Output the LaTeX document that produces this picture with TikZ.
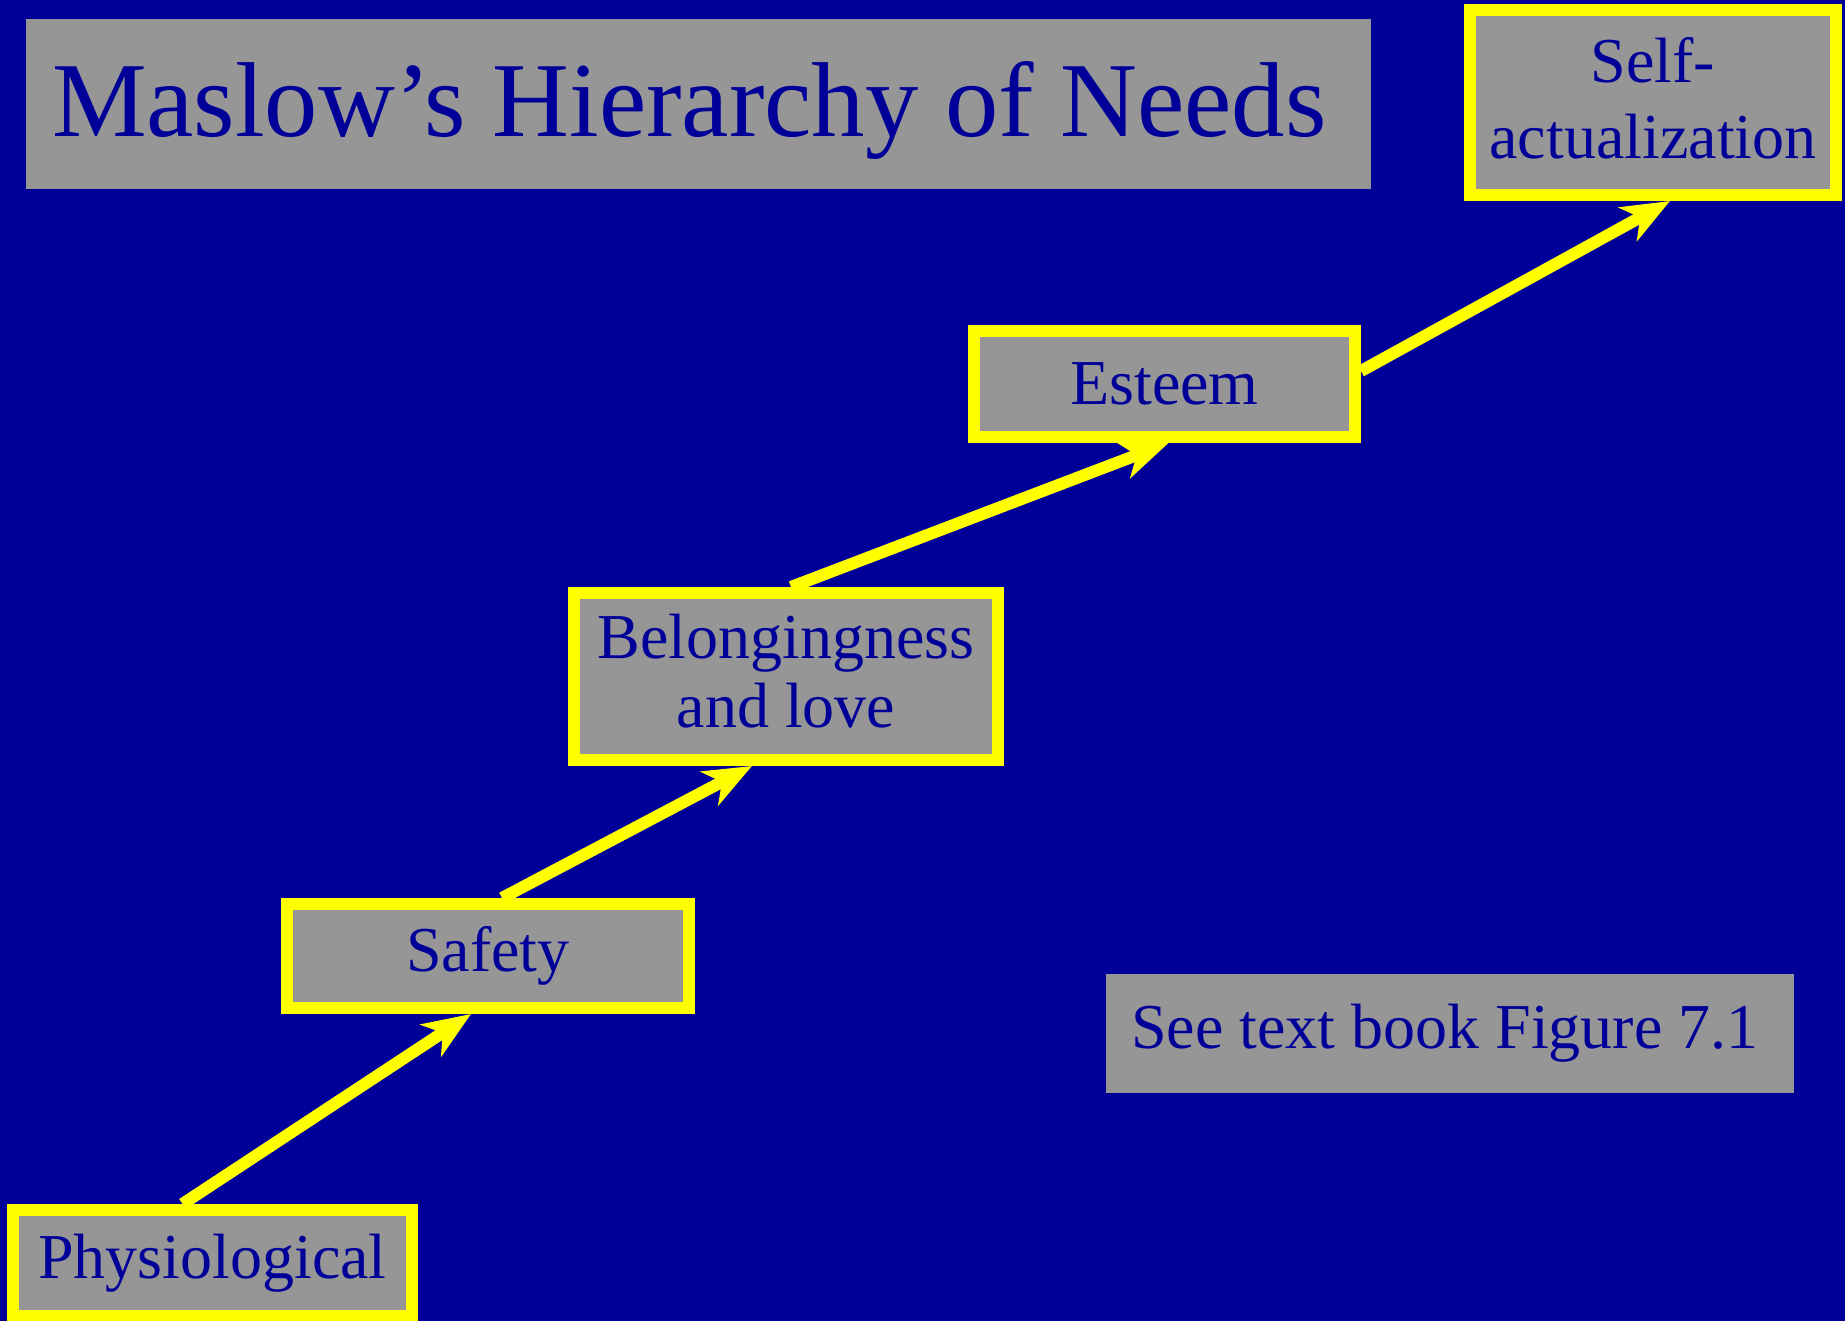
\documentclass[tikz,border=0pt]{standalone}
\usepackage{fontspec}
\setmainfont{Liberation Serif}
\usetikzlibrary{arrows.meta}
\definecolor{slideblue}{HTML}{000099}
\definecolor{boxgray}{HTML}{969696}
\definecolor{lineyellow}{HTML}{FFFF00}

\begin{document}
\begin{tikzpicture}[x=1pt, y=-1pt]
    \tikzstyle{level_box} = [draw=lineyellow, line width=12pt, fill=boxgray, text=slideblue, inner sep=0pt, align=center, font=\fontsize{64}{76}\selectfont]
    \tikzstyle{plain_box} = [fill=boxgray, text=slideblue, inner sep=0pt]
    \tikzstyle{arrow_style} = [-{Stealth[length=48pt, width=38pt, inset=14pt]}, lineyellow, line width=12pt]

    \fill[slideblue] (0,0) rectangle (1845,1321);
    \useasboundingbox (0,0) rectangle (1845,1321);

    \node[plain_box, minimum width=1345pt, minimum height=170pt, text width=1293pt, inner xsep=26pt, text depth=9pt, align=flush left, font=\fontsize{106.5}{120}\selectfont] (ntitle) at (698.5,104) {\mbox{Maslow’s Hierarchy of Needs}};
    \node[plain_box, minimum width=688pt, minimum height=119pt, text width=638pt, inner xsep=25pt, align=flush left, font=\fontsize{64}{76}\selectfont] (nsee) at (1450,1033.5) {\mbox{See text book Figure 7.1}};

    \node[level_box, minimum width=399pt, minimum height=106pt] (nphys) at (212.5,1263) {Physiological};
    \node[level_box, minimum width=402pt, minimum height=104pt] (nsafe) at (488,956) {Safety};
    \node[level_box, minimum width=424pt, minimum height=167pt, text depth=12pt, font=\fontsize{64}{69}\selectfont] (nbelong) at (786,676.5) {Belongingness\\and love};
    \node[level_box, minimum width=381pt, minimum height=106pt] (nesteem) at (1164.5,384) {Esteem};
    \node[level_box, minimum width=366pt, minimum height=185pt, text depth=10pt] (nself) at (1653,102.5) {Self-\\actualization};

    \draw[arrow_style] ([xshift=-30pt]nphys.north) -- ([xshift=-17pt]nsafe.south);
    \draw[arrow_style] ([xshift=14pt]nsafe.north) -- ([xshift=-34pt]nbelong.south);
    \draw[arrow_style] ([xshift=5pt]nbelong.north) -- ([xshift=4pt]nesteem.south);
    \draw[arrow_style] ([yshift=13pt]nesteem.east) -- ([xshift=17pt]nself.south);
\end{tikzpicture}
\end{document}
